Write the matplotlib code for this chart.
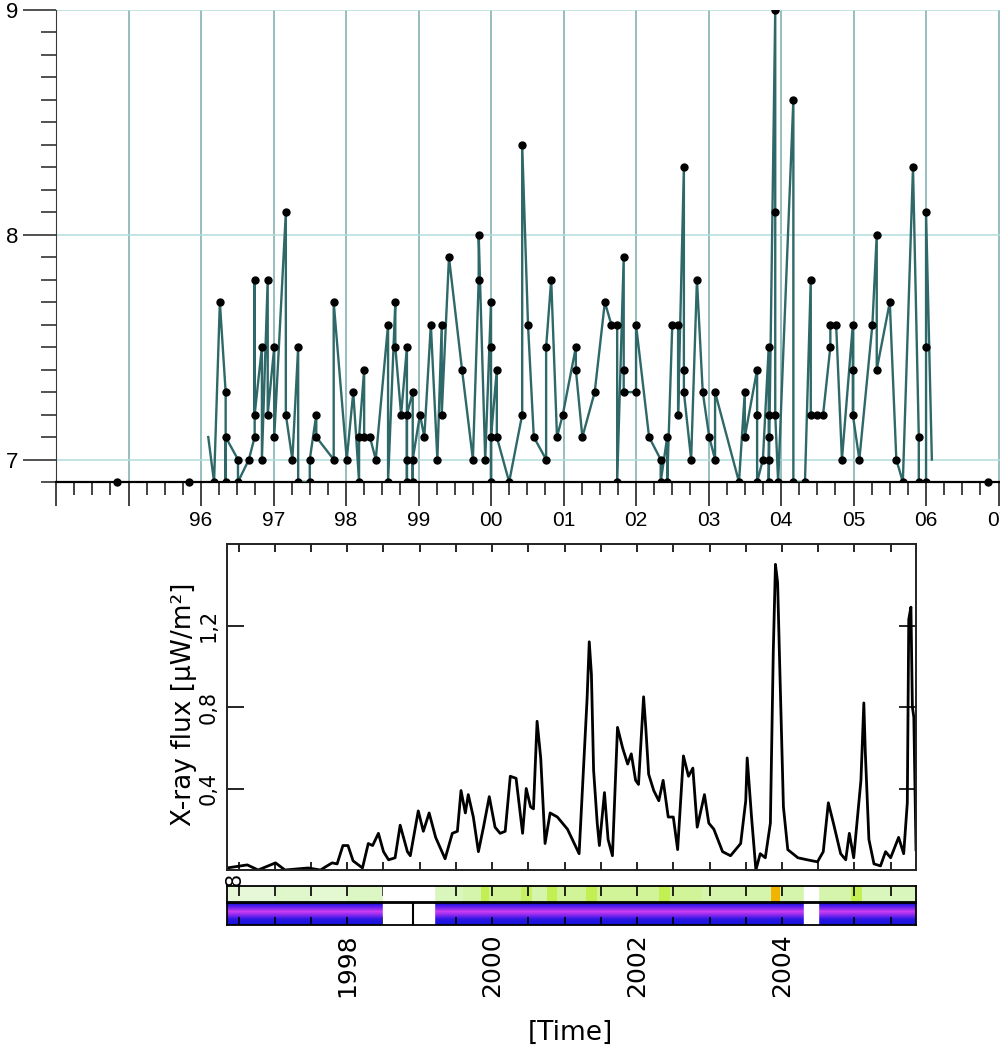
import numpy as np
import matplotlib
matplotlib.use("Agg")
import matplotlib.pyplot as plt
from matplotlib.ticker import MultipleLocator
from matplotlib.colors import LinearSegmentedColormap

# --- top panel: event magnitudes vs time -------------------------------
quake_years = [
    1996.10, 1996.18, 1996.26, 1996.34, 1996.34, 1996.34, 1996.51, 1996.51,
    1996.66, 1996.74, 1996.74, 1996.74, 1996.84, 1996.84, 1996.92, 1996.92,
    1997.01, 1997.01, 1997.17, 1997.17, 1997.26, 1997.34, 1997.34, 1997.50,
    1997.50, 1997.59, 1997.59, 1997.83, 1997.83, 1998.01, 1998.10, 1998.18,
    1998.18, 1998.25, 1998.25, 1998.33, 1998.41, 1998.58, 1998.58, 1998.68,
    1998.68, 1998.76, 1998.84, 1998.84, 1998.84, 1998.84, 1998.92, 1998.92,
    1998.92, 1999.02, 1999.08, 1999.17, 1999.26, 1999.32, 1999.32, 1999.42,
    1999.60, 1999.75, 1999.83, 1999.83, 1999.92, 2000.00, 2000.00, 2000.00,
    2000.00, 2000.08, 2000.08, 2000.25, 2000.43, 2000.43, 2000.51, 2000.59,
    2000.76, 2000.76, 2000.83, 2000.91, 2000.99, 2001.17, 2001.17, 2001.26,
    2001.43, 2001.57, 2001.66, 2001.74, 2001.74, 2001.83, 2001.83, 2001.83,
    2002.00, 2002.00, 2002.18, 2002.34, 2002.34, 2002.43, 2002.43, 2002.50,
    2002.58, 2002.58, 2002.66, 2002.66, 2002.66, 2002.76, 2002.84, 2002.92,
    2003.01, 2003.09, 2003.09, 2003.42, 2003.50, 2003.50, 2003.67, 2003.67,
    2003.67, 2003.75, 2003.83, 2003.83, 2003.83, 2003.83, 2003.83, 2003.92,
    2003.92, 2003.92, 2003.96, 2004.17, 2004.17, 2004.33, 2004.41, 2004.41,
    2004.50, 2004.58, 2004.68, 2004.68, 2004.76, 2004.84, 2004.99, 2004.99,
    2004.99, 2005.08, 2005.26, 2005.32, 2005.32, 2005.50, 2005.59, 2005.68,
    2005.82, 2005.90, 2005.90, 2006.00, 2006.00, 2006.00, 2006.08,
]
quake_mags = [
    7.1, 6.9, 7.7, 7.3, 6.9, 7.1, 7.0, 6.9,
    7.0, 7.1, 7.8, 7.2, 7.5, 7.0, 7.8, 7.2,
    7.5, 7.1, 8.1, 7.2, 7.0, 7.5, 6.9, 6.9,
    7.0, 7.2, 7.1, 7.0, 7.7, 7.0, 7.3, 6.9,
    7.1, 7.4, 7.1, 7.1, 7.0, 7.6, 6.9, 7.7,
    7.5, 7.2, 7.5, 6.9, 7.0, 7.2, 7.3, 6.9,
    7.0, 7.2, 7.1, 7.6, 7.0, 7.6, 7.2, 7.9,
    7.4, 7.0, 7.8, 8.0, 7.0, 7.7, 6.9, 7.5,
    7.1, 7.4, 7.1, 6.9, 7.2, 8.4, 7.6, 7.1,
    7.0, 7.5, 7.8, 7.1, 7.2, 7.5, 7.4, 7.1,
    7.3, 7.7, 7.6, 7.6, 6.9, 7.9, 7.4, 7.3,
    7.3, 7.6, 7.1, 7.0, 6.9, 7.1, 6.9, 7.6,
    7.6, 7.2, 8.3, 7.4, 7.3, 7.0, 7.8, 7.3,
    7.1, 7.0, 7.3, 6.9, 7.3, 7.1, 7.4, 7.2,
    6.9, 7.0, 7.5, 7.2, 7.1, 7.0, 6.9, 9.0,
    8.1, 7.2, 6.9, 8.6, 6.9, 6.9, 7.8, 7.2,
    7.2, 7.2, 7.5, 7.6, 7.6, 7.0, 7.6, 7.4,
    7.2, 7.0, 7.6, 8.0, 7.4, 7.7, 7.0, 6.9,
    8.3, 7.1, 6.9, 6.9, 7.5, 8.1, 7.0,
]
lone_years = [1994.84, 1995.83, 2006.86]
lone_mags = [6.9, 6.9, 6.9]
top_years = list(range(1994, 2008))
top_year_labels = ["", "", "96", "97", "98", "99", "00", "01", "02",
                   "03", "04", "05", "06", "07"]

# --- bottom panel: X-ray flux -------------------------------------------
flux_years = [
    1996.34, 1996.62, 1996.77, 1997.01, 1997.14, 1997.46, 1997.63, 1997.79,
    1997.86, 1997.94, 1998.01, 1998.08, 1998.21, 1998.29, 1998.35, 1998.43,
    1998.50, 1998.57, 1998.66, 1998.73, 1998.83, 1998.87, 1998.98, 1999.05,
    1999.13, 1999.22, 1999.35, 1999.45, 1999.52, 1999.57, 1999.63, 1999.67,
    1999.74, 1999.81, 1999.88, 1999.96, 2000.04, 2000.11, 2000.18, 2000.25,
    2000.33, 2000.42, 2000.47, 2000.53, 2000.57, 2000.62, 2000.67, 2000.73,
    2000.80, 2000.90, 2001.04, 2001.20, 2001.31, 2001.34, 2001.37, 2001.40,
    2001.45, 2001.48, 2001.55, 2001.60, 2001.66, 2001.73, 2001.80, 2001.87,
    2001.92, 2001.98, 2002.02, 2002.09, 2002.12, 2002.16, 2002.23, 2002.30,
    2002.36, 2002.43, 2002.50, 2002.56, 2002.64, 2002.71, 2002.77, 2002.83,
    2002.93, 2002.99, 2003.06, 2003.18, 2003.29, 2003.43, 2003.50, 2003.52,
    2003.58, 2003.64, 2003.70, 2003.77, 2003.84, 2003.88, 2003.91, 2003.94,
    2003.97, 2004.02, 2004.08, 2004.22, 2004.35, 2004.49, 2004.57, 2004.64,
    2004.71, 2004.81, 2004.88, 2004.93, 2004.99, 2005.09, 2005.13, 2005.15,
    2005.20, 2005.27, 2005.36, 2005.43, 2005.50, 2005.61, 2005.68, 2005.73,
    2005.75, 2005.78, 2005.80, 2005.82, 2005.85,
]
flux_values = [
    0.01, 0.025, 0.0, 0.035, 0.0, 0.01, 0.0, 0.035,
    0.03, 0.12, 0.12, 0.045, 0.01, 0.13, 0.12, 0.18,
    0.09, 0.05, 0.06, 0.22, 0.09, 0.07, 0.29, 0.19,
    0.28, 0.16, 0.055, 0.18, 0.19, 0.39, 0.28, 0.37,
    0.26, 0.09, 0.21, 0.36, 0.21, 0.18, 0.19, 0.46,
    0.45, 0.18, 0.40, 0.31, 0.30, 0.73, 0.55, 0.13,
    0.28, 0.26, 0.20, 0.08, 0.84, 1.12, 0.96, 0.49,
    0.23, 0.12, 0.38, 0.15, 0.07, 0.70, 0.60, 0.52,
    0.57, 0.44, 0.42, 0.85, 0.70, 0.47, 0.39, 0.34,
    0.44, 0.26, 0.26, 0.10, 0.56, 0.46, 0.50, 0.21,
    0.37, 0.23, 0.20, 0.09, 0.07, 0.13, 0.34, 0.55,
    0.26, 0.0, 0.08, 0.06, 0.23, 1.07, 1.50, 1.41,
    0.99, 0.31, 0.10, 0.06, 0.05, 0.04, 0.09, 0.33,
    0.23, 0.08, 0.05, 0.18, 0.06, 0.44, 0.82, 0.58,
    0.15, 0.03, 0.02, 0.09, 0.06, 0.16, 0.08, 0.33,
    1.23, 1.29, 0.80, 0.75, 0.10,
]
flux_ticks = [0.4, 0.8, 1.2]
flux_tick_labels = ["0,4", "0,8", "1,2"]

# --- colour strips under the X-ray panel --------------------------------
upper_edges = [1996.34, 1997.0, 1997.5, 1998.0, 1998.5, 1999.2, 1999.6,
               1999.85, 1999.95, 2000.4, 2000.55, 2000.75, 2000.9, 2001.3,
               2001.45, 2002.3, 2002.45, 2002.9, 2003.85, 2003.97, 2004.3,
               2004.5, 2004.95, 2005.1, 2005.85]
upper_values = [0.1, 0.2, 0.15, 0.25, np.nan, 0.3, 0.35, 0.6, 0.4, 0.55,
                0.35, 0.6, 0.4, 0.6, 0.4, 0.6, 0.4, 0.35, 0.95, 0.35,
                np.nan, 0.35, 0.6, 0.3]
lower_profile = [0.1, 0.55, 0.95, 0.6, 0.15, 0.05]
strip_gaps = [(1998.5, 1999.2), (2004.3, 2004.5)]
gap_marker_year = 1998.91
strip_years = [1998, 2000, 2002, 2004]
strip_year_labels = ["1998", "2000", "2002", "2004"]

FIG_W, FIG_H = 1000, 1052
fig = plt.figure(figsize=(10, 10.52), dpi=100)


def box(x0, y0, x1, y1):
    # pixel box (top-left origin) -> figure fraction rect
    return [x0 / FIG_W, 1 - y1 / FIG_H, (x1 - x0) / FIG_W, (y1 - y0) / FIG_H]


narrow = ["Liberation Sans Narrow", "Liberation Sans", "DejaVu Sans"]

# ---------------- top panel ----------------
ax = fig.add_axes(box(56, 10, 1000, 482))
ax.set_xlim(1994, 2007.02)
ax.set_ylim(6.9, 9.0)

for side in ("top", "right"):
    ax.spines[side].set_visible(False)
ax.spines["left"].set_color("#3a3a3a")
ax.spines["bottom"].set_color("black")
ax.spines["bottom"].set_linewidth(1.6)

ax.set_xticks(top_years)
ax.set_xticklabels(top_year_labels, family=narrow, fontsize=15)
ax.xaxis.set_minor_locator(MultipleLocator(0.25))
ax.tick_params(axis="x", which="major", direction="out", length=17, width=1.2,
               color="#222222", pad=4)
ax.tick_params(axis="x", which="minor", direction="out", length=9, width=1.2,
               color="#222222")

ax.set_yticks([7, 8, 9])
ax.set_yticklabels(["7", "8", "9"], family=narrow, fontsize=16)
ax.yaxis.set_minor_locator(MultipleLocator(0.1))
ax.tick_params(axis="y", which="major", direction="out", length=24, width=1.2,
               color="#333333", pad=3)
ax.tick_params(axis="y", which="minor", direction="out", length=11, width=1.2,
               color="#333333")

ax.grid(True, axis="x", which="major", color="#79abab", linewidth=1.1)
ax.grid(True, axis="y", which="major", color="#b3dcdc", linewidth=1.1)
ax.set_axisbelow(True)

ax.plot(quake_years, quake_mags, color="#2f6868", linewidth=1.7,
        marker="o", markersize=5, markerfacecolor="black",
        markeredgecolor="black", markevery=slice(1, len(quake_years) - 1),
        zorder=3)
ax.plot(lone_years, lone_mags, linestyle="none", marker="o", markersize=5,
        color="black", zorder=3, clip_on=False)

# ---------------- bottom panel: X-ray flux ----------------
bx = fig.add_axes(box(227, 544, 916, 870))
bx.set_xlim(1996.34, 2005.85)
bx.set_ylim(0, 1.6)
bx.plot(flux_years, flux_values, color="black", linewidth=2.0)
for s in bx.spines.values():
    s.set_linewidth(1.4)
    s.set_color("#222222")
bx.xaxis.set_major_locator(MultipleLocator(0.5))
bx.set_xticklabels([])
bx.tick_params(axis="x", direction="in", length=6, width=1.2, top=True,
               labelbottom=False)
bx.set_yticks(flux_ticks)
bx.set_yticklabels(flux_tick_labels, rotation=90, va="center", ha="right",
                   fontsize=15)
bx.tick_params(axis="y", direction="in", length=12, width=1.2, right=True,
               pad=6)
fig.text(184 / FIG_W, 1 - 704 / FIG_H, "X-ray flux [μW/m²]", rotation=90,
         ha="center", va="center", fontsize=19)
fig.text(235 / FIG_W, 1 - 879 / FIG_H, "8", rotation=90, ha="center",
         va="center", fontsize=15, zorder=5)

# ---------------- upper strip ----------------
green_cmap = LinearSegmentedColormap.from_list(
    "strip_green",
    [(0.0, "#eef9e6"), (0.3, "#d9f6bd"), (0.6, "#c3ef52"),
     (0.85, "#f4e000"), (1.0, "#f0a000")])
green_cmap.set_bad("white")
ux = fig.add_axes(box(227, 886, 916, 902))
ux.pcolormesh(upper_edges, [0, 1], np.ma.masked_invalid([upper_values]),
              cmap=green_cmap, vmin=0, vmax=1)
ux.set_xlim(1996.34, 2005.85)
ux.set_ylim(0, 1)
ux.set_yticks([])
ux.xaxis.set_major_locator(MultipleLocator(0.5))
ux.tick_params(axis="x", direction="in", length=7, width=1.2, top=True,
               bottom=False, labelbottom=False)
for s in ux.spines.values():
    s.set_linewidth(1.3)

# ---------------- lower strip ----------------
purple_cmap = LinearSegmentedColormap.from_list(
    "strip_purple", ["#1212dc", "#6a22ee", "#d640f0"])
lx = fig.add_axes(box(227, 903, 916, 925))
lx.imshow(np.array(lower_profile)[:, None], aspect="auto", cmap=purple_cmap,
          vmin=0, vmax=1, interpolation="bilinear",
          extent=(1996.34, 2005.85, 0, 1))
for g0, g1 in strip_gaps:
    lx.axvspan(g0, g1, color="white", zorder=2)
    ux.axvspan(g0, g1, color="white", zorder=2)
lx.axvline(gap_marker_year, color="black", linewidth=1.5, zorder=3)
lx.set_xlim(1996.34, 2005.85)
lx.set_ylim(0, 1)
lx.set_yticks([])
lx.set_xticks(strip_years)
lx.set_xticklabels(strip_year_labels, rotation=90, va="top", fontsize=18)
lx.xaxis.set_minor_locator(MultipleLocator(0.5))
lx.tick_params(axis="x", which="both", direction="in", length=6, width=1.2,
               pad=6)
for s in lx.spines.values():
    s.set_linewidth(1.3)

fig.text(570 / FIG_W, 1 - 1033 / FIG_H, "[Time]", ha="center", va="center",
         fontsize=19)

fig.savefig("out.png", dpi=100)
